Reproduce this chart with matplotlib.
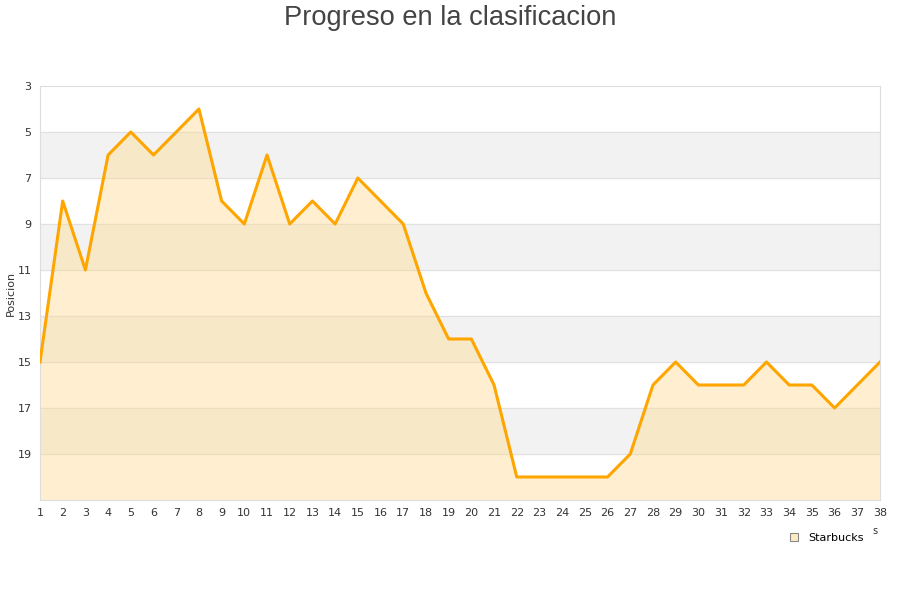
import matplotlib.pyplot as plt
from matplotlib.lines import Line2D

# jornada number and league position
jornadas = list(range(1, 39))
posicion = [15, 8, 11, 6, 5, 6, 5, 4, 8, 9, 6, 9, 8, 9, 7, 8, 9, 12, 14, 14,
            16, 20, 20, 20, 20, 20, 19, 16, 15, 16, 16, 16, 15, 16, 16, 17, 16, 15]
y_ticks = [3, 5, 7, 9, 11, 13, 15, 17, 19]
equipo = "Starbucks"

fig = plt.figure(figsize=(9, 6), dpi=100)
ax = fig.add_axes([40 / 900, 1 - 500 / 600, 840 / 900, 414 / 600])

# alternating bands
for i, lo in enumerate(range(3, 21, 2)):
    if i % 2 == 1:
        ax.axhspan(lo, lo + 2, color="#f2f2f2", zorder=0)
for t in y_ticks[1:]:
    ax.axhline(t, color="#e0e0e0", lw=0.8, zorder=1)

ax.fill_between(jornadas, posicion, 21, color="#ffd98a", alpha=0.4, lw=0, zorder=2)
ax.plot(jornadas, posicion, color="#ffa500", lw=2.2, zorder=3)

ax.set_xlim(1, 38)
ax.set_ylim(21, 3)
ax.set_xticks(jornadas)
ax.set_yticks(y_ticks)
ax.tick_params(length=0, labelsize=8, colors="#333333", pad=6)
for s in ax.spines.values():
    s.set_color("#dddddd")
    s.set_linewidth(0.8)

ax.set_ylabel("Posicion", fontsize=8, color="#333333")
ax.yaxis.set_label_coords(-24 / 840, 0.5)
fig.suptitle("Progreso en la clasificacion", fontsize=19.6, color="#444444",
             family="Liberation Sans", y=0.992)

handle = Line2D([], [], marker="s", ls="none", markersize=6,
                markerfacecolor="#ffebc2", markeredgecolor="#888888", markeredgewidth=0.8)
fig.legend([handle], [equipo], loc="center", bbox_to_anchor=(823 / 900, 1 - 538 / 600),
           frameon=False, fontsize=8, handletextpad=0.3)
fig.text(875 / 900, 1 - 531 / 600, "s", fontsize=7, color="#333333", ha="center", va="center")

fig.savefig("out.png")
